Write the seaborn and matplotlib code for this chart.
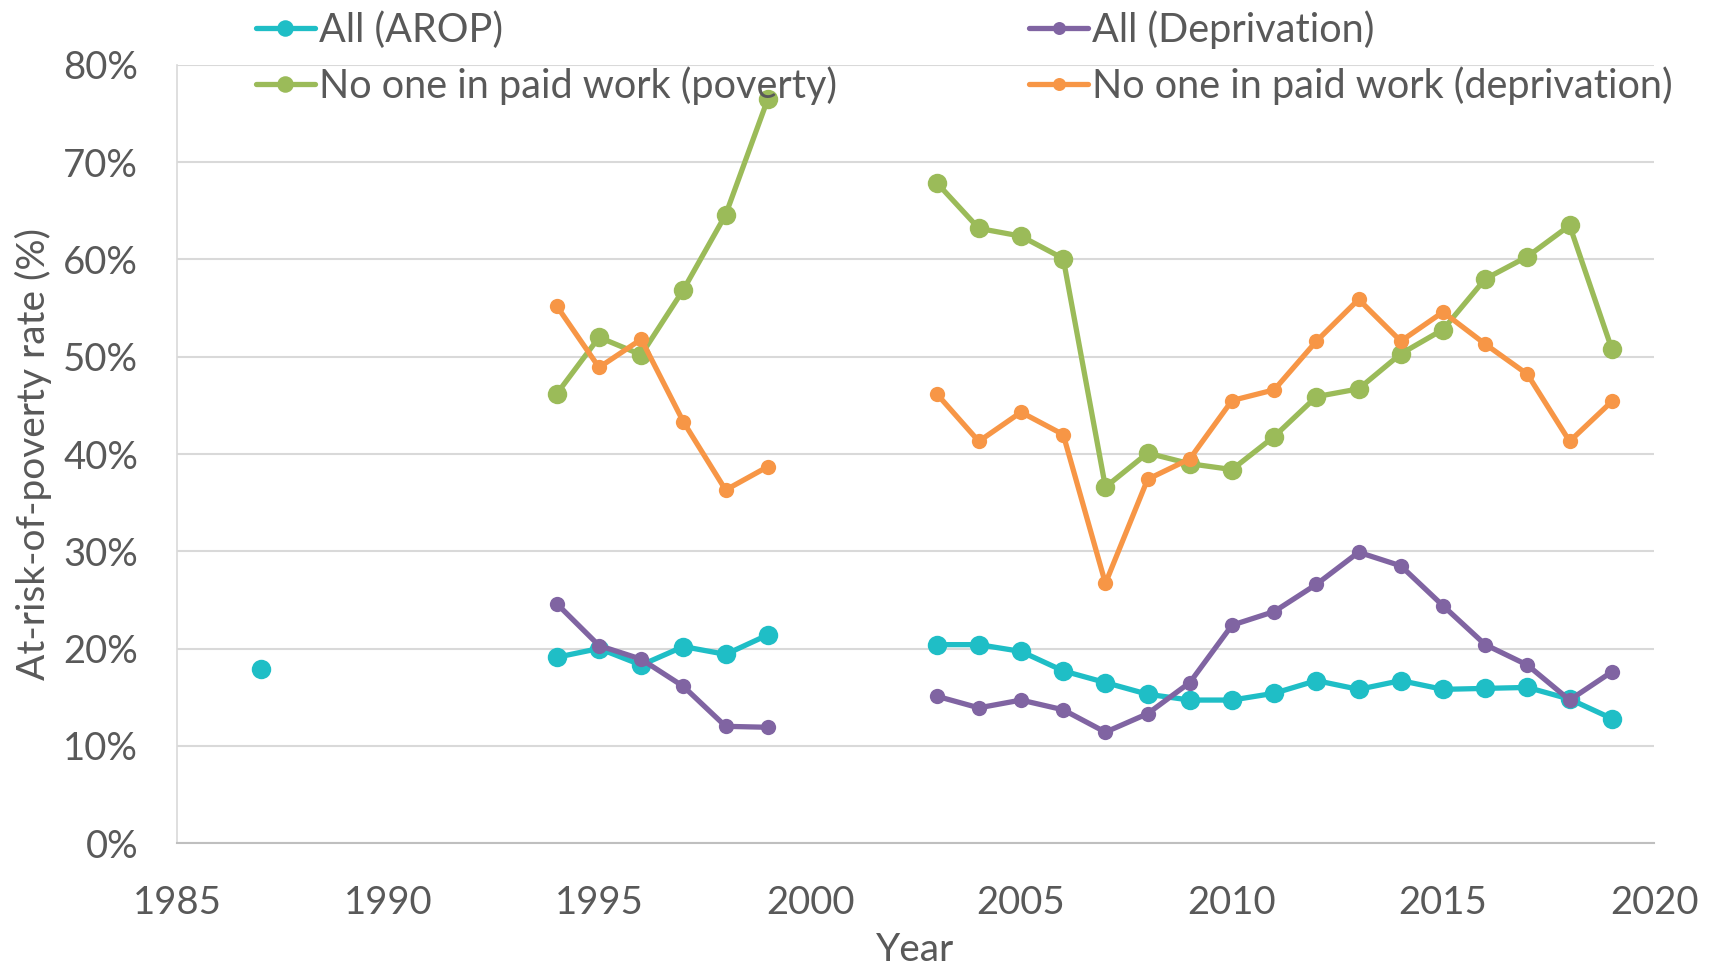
import numpy as np
import pandas as pd
import matplotlib
matplotlib.use("Agg")
import matplotlib.pyplot as plt
import seaborn as sns
from matplotlib.ticker import FuncFormatter

# ---- data ----
years_a = [1987]
years_b = [1994, 1995, 1996, 1997, 1998, 1999]
years_c = list(range(2003, 2020))

arop_a = [17.9]
arop_b = [19.1, 20.0, 18.3, 20.2, 19.4, 21.4]
arop_c = [20.4, 20.4, 19.7, 17.7, 16.5, 15.3, 14.7, 14.7, 15.4, 16.7, 15.8, 16.7, 15.8, 15.9, 16.0, 14.8, 12.8]

depr_b = [24.6, 20.3, 18.9, 16.1, 12.0, 11.9]
depr_c = [15.1, 13.9, 14.7, 13.7, 11.4, 13.3, 16.5, 22.4, 23.8, 26.6, 29.9, 28.5, 24.4, 20.4, 18.3, 14.7, 17.6]

pov_nw_b = [46.2, 52.0, 50.2, 56.9, 64.6, 76.5]
pov_nw_c = [67.9, 63.2, 62.4, 60.1, 36.6, 40.1, 39.0, 38.4, 41.8, 45.9, 46.7, 50.3, 52.8, 58.0, 60.3, 63.5, 50.8]

dep_nw_b = [55.2, 48.9, 51.8, 43.3, 36.3, 38.7]
dep_nw_c = [46.2, 41.3, 44.3, 42.0, 26.7, 37.4, 39.5, 45.5, 46.6, 51.6, 55.9, 51.6, 54.6, 51.3, 48.2, 41.3, 45.4]

series_names = ["All (AROP)", "All (Deprivation)",
                "No one in paid work (poverty)", "No one in paid work (deprivation)"]
x_ticks = [1985, 1990, 1995, 2000, 2005, 2010, 2015, 2020]
y_ticks = [0, 10, 20, 30, 40, 50, 60, 70, 80]

rows = []
def add(name, seg, years, vals):
    for y, v in zip(years, vals):
        rows.append({"series": name, "segment": seg, "Year": y, "value": v})

add(series_names[0], "a", years_a, arop_a)
add(series_names[0], "b", years_b, arop_b)
add(series_names[0], "c", years_c, arop_c)
add(series_names[1], "b", years_b, depr_b)
add(series_names[1], "c", years_c, depr_c)
add(series_names[2], "b", years_b, pov_nw_b)
add(series_names[2], "c", years_c, pov_nw_c)
add(series_names[3], "b", years_b, dep_nw_b)
add(series_names[3], "c", years_c, dep_nw_c)
df = pd.DataFrame(rows)

# ---- style ----
sns.set_style("white")
plt.rcParams["font.family"] = ["Lato", "DejaVu Sans"]
text_col = "#595959"

colors = {series_names[0]: "#1FBEC6", series_names[1]: "#8064A2",
          series_names[2]: "#9BBB59", series_names[3]: "#F79646"}
msizes = {series_names[0]: 14, series_names[1]: 11,
          series_names[2]: 14, series_names[3]: 11}

fig = plt.figure(figsize=(17.14, 9.67), dpi=100)
ax = fig.add_axes([0.1033, 0.1282, 0.8617, 0.8046])

handles = {}
for name in series_names:
    sub = df[df["series"] == name]
    sns.lineplot(data=sub, x="Year", y="value", units="segment", estimator=None,
                 color=colors[name], lw=3.8, marker="o", markersize=msizes[name],
                 markeredgewidth=0, ax=ax, legend=False, zorder=3)
    handles[name] = plt.Line2D([], [], color=colors[name], lw=3.8, marker="o",
                               markersize=msizes[name] * 0.85, markeredgewidth=0)

ax.set_xlim(1985, 2020)
ax.set_ylim(0, 80)
ax.set_xticks(x_ticks)
ax.set_yticks(y_ticks)
ax.yaxis.set_major_formatter(FuncFormatter(lambda v, p: f"{int(v)}%"))
ax.grid(axis="y", color="#D9D9D9", lw=1.5)
ax.grid(axis="x", visible=False)
for s in ["top", "right"]:
    ax.spines[s].set_visible(False)
ax.spines["bottom"].set_color("#BFBFBF")
ax.spines["bottom"].set_linewidth(1.5)
ax.spines["left"].set_color("#D9D9D9")
ax.spines["left"].set_linewidth(1.2)
ax.tick_params(axis="both", length=0, labelsize=27.5, colors=text_col)
ax.tick_params(axis="x", pad=30)
ax.tick_params(axis="y", pad=28)
ax.set_xlabel("Year", fontsize=28, color=text_col, labelpad=8)
ax.set_ylabel("At-risk-of-poverty rate (%)", fontsize=28, color=text_col, labelpad=8)

order = [series_names[0], series_names[2], series_names[1], series_names[3]]
leg = fig.legend([handles[n] for n in order], order, ncol=2, loc="upper left",
                 bbox_to_anchor=(0.140, 1.006), frameon=False, fontsize=28.5,
                 handlelength=1.5, handletextpad=0.1, columnspacing=4.85,
                 labelspacing=0.45, borderaxespad=0.0)
for t in leg.get_texts():
    t.set_color(text_col)

fig.savefig("out.png", dpi=100)
